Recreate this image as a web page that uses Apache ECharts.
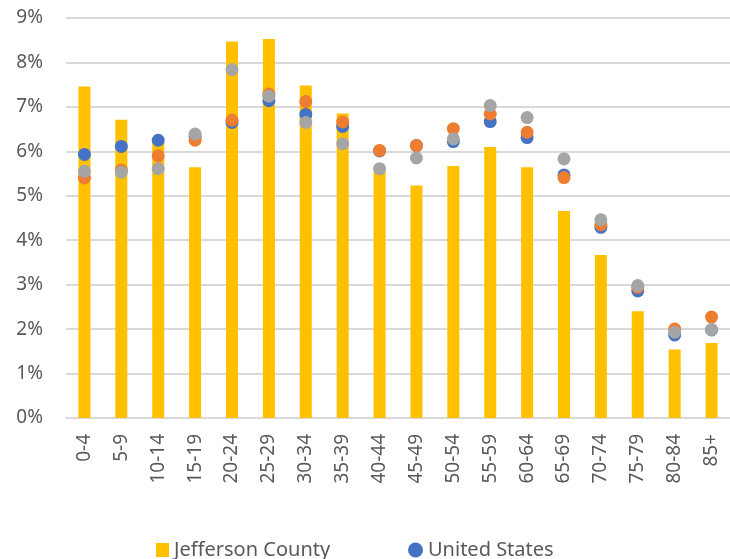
<!DOCTYPE html>
<html>
<head>
<meta charset="utf-8">
<script src="https://cdn.jsdelivr.net/npm/echarts@6/dist/echarts.min.js"></script>
<style>
  html, body { margin: 0; padding: 0; background: #fff; }
  #chart { width: 730px; height: 559px; }
</style>
</head>
<body>
<div id="chart"></div>
<script>
const ageGroups = ['0-4', '5-9', '10-14', '15-19', '20-24', '25-29', '30-34', '35-39', '40-44',
  '45-49', '50-54', '55-59', '60-64', '65-69', '70-74', '75-79', '80-84', '85+'];

// percent of population by age group
const jeffersonCounty = [7.46, 6.71, 6.2, 5.64, 8.47, 8.53, 7.48, 6.85, 5.55,
  5.23, 5.67, 6.1, 5.64, 4.66, 3.67, 2.4, 1.54, 1.69];
const unitedStates = [5.93, 6.11, 6.25, 6.33, 6.65, 7.14, 6.83, 6.56, 6.01,
  6.13, 6.22, 6.67, 6.31, 5.47, 4.29, 2.86, 1.87, 1.98];
const orangeSeries = [5.4, 5.58, 5.9, 6.25, 6.7, 7.29, 7.12, 6.66, 6.02,
  6.13, 6.51, 6.84, 6.43, 5.41, 4.35, 2.94, 2.0, 2.27];
const graySeries = [5.55, 5.53, 5.61, 6.39, 7.84, 7.24, 6.65, 6.17, 5.61,
  5.85, 6.28, 7.03, 6.76, 5.83, 4.46, 2.98, 1.93, 1.99];

const yTicks = [0, 9, 1]; // min, max, interval

const labelColor = '#595959';
const gridColor = '#D9D9D9';
const fontFamily = '"Noto Sans", "Open Sans", sans-serif';

const dotSeries = (name, data, color) => ({
  name,
  type: 'scatter',
  data,
  symbol: 'circle',
  symbolSize: 13,
  itemStyle: { color, opacity: 1 },
  emphasis: { disabled: true },
});

const chart = echarts.init(document.getElementById('chart'));

const option = {
  animation: false,
  textStyle: { fontFamily },
  grid: {
    left: 66,
    top: 18,
    width: 671,
    height: 400,
    containLabel: false,
  },
  legend: [
    {
      data: [{ name: 'Jefferson County', icon: 'rect' }],
      left: 156,
      top: 540,
      padding: 0,
      itemWidth: 13,
      itemHeight: 14,
      itemGap: 6,
      textStyle: { color: labelColor, fontSize: 20, fontFamily },
    },
    {
      data: [{ name: 'United States', icon: 'circle' }],
      left: 408,
      top: 540,
      padding: 0,
      itemWidth: 15,
      itemHeight: 15,
      textStyle: { color: labelColor, fontSize: 20, fontFamily },
    },
  ],
  xAxis: {
    type: 'category',
    data: ageGroups,
    axisLine: { lineStyle: { color: gridColor, width: 2 } },
    axisTick: { show: false },
    axisLabel: {
      rotate: 90,
      margin: 16,
      color: labelColor,
      fontSize: 19,
      fontFamily,
      interval: 0,
    },
  },
  yAxis: {
    type: 'value',
    min: yTicks[0],
    max: yTicks[1],
    interval: yTicks[2],
    axisLine: { show: false },
    axisTick: { show: false },
    axisLabel: {
      formatter: '{value}%',
      margin: 23,
      color: labelColor,
      fontSize: 19,
      fontFamily,
    },
    splitLine: { lineStyle: { color: gridColor, width: 2 } },
  },
  series: [
    {
      name: 'Jefferson County',
      type: 'bar',
      data: jeffersonCounty,
      barWidth: 12,
      itemStyle: { color: '#FFC000' },
      emphasis: { disabled: true },
    },
    dotSeries('United States', unitedStates, '#4472C4'),
    dotSeries('Series 3', orangeSeries, '#ED7D31'),
    dotSeries('Series 4', graySeries, '#A5A5A5'),
  ],
};

chart.setOption(option);
</script>
</body>
</html>
